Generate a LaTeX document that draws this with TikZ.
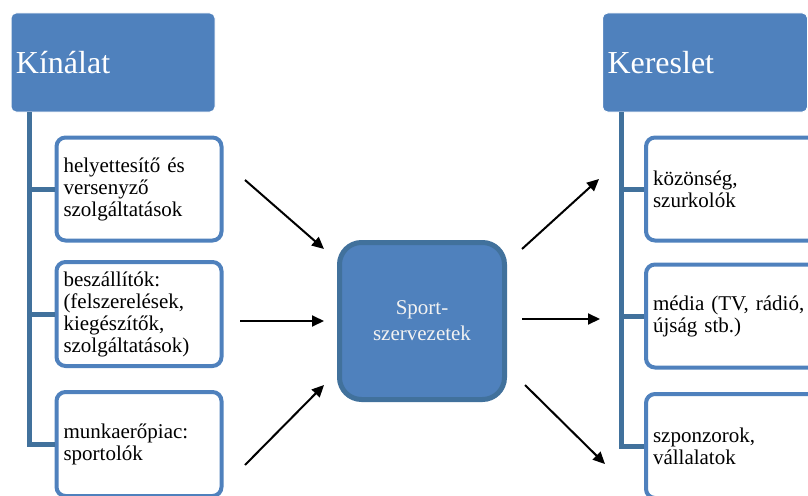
\documentclass[tikz,border=0pt]{standalone}
\usepackage{fontspec}
\setmainfont{Liberation Serif}
\usetikzlibrary{arrows.meta}
\definecolor{kek}{HTML}{4F81BD}
\definecolor{sotetkek}{HTML}{41719C}
\begin{document}
\begin{tikzpicture}[x=1pt,y=-1pt,
    fej/.style={fill=kek,draw=white,line width=1pt,rounded corners=5pt,
      minimum width=204pt,minimum height=99pt,text width=194pt,
      align=left,inner xsep=5pt,text=white,font=\fontsize{32}{36}\selectfont},
    elem/.style={fill=white,draw=kek,line width=4pt,rounded corners=9pt,
      minimum width=165pt,minimum height=103pt,text width=151pt,
      align=left,inner xsep=7pt,font=\fontsize{21}{22}\selectfont},
    jelem/.style={elem,minimum width=184pt,text width=170pt},
    kozep/.style={fill=kek,draw=sotetkek,line width=5pt,rounded corners=22pt,
      minimum width=165pt,minimum height=157pt,align=center,
      text=white!95!black,font=\fontsize{21}{26}\selectfont},
    ag/.style={draw=sotetkek,line width=5pt},
    nyil/.style={-{Triangle[length=12pt,width=11pt]},line width=2pt}]
  \useasboundingbox (0,0) rectangle (808,495);
  \node[fej] (kinalat) at (113,62.5) {Kínálat};
  \node[fej,minimum width=205pt,text width=195pt] (kereslet) at (705,62.5) {Kereslet};
  \node[elem] (helyettesito) at (139,189) {helyettesítő és\\versenyző\\szolgáltatások};
  \node[elem,minimum height=104pt] (beszallitok) at (139,314) {beszállítók:\\(felszerelések,\\kiegészítők,\\szolgáltatások)};
  \node[elem,minimum height=104pt] (munkaero) at (139,444) {munkaerőpiac:\\sportolók};
  \node[jelem] (kozonseg) at (738,189) {közönség,\\szurkolók};
  \node[jelem] (media) at (738,316) {média (TV, rádió,\\újság stb.)};
  \node[jelem,minimum height=104pt] (szponzor) at (738,446) {szponzorok,\\vállalatok};
  \node[kozep] (sport) at (422,321) {Sport-\\szervezetek};
  \coordinate (baltorzs) at (29,112);
  \coordinate (jobbtorzs) at (621,112);
  \begin{scope}[ag]
    \draw (baltorzs) |- (munkaero.west);
    \draw (baltorzs |- helyettesito.west) -- (helyettesito.west);
    \draw (baltorzs |- beszallitok.west) -- (beszallitok.west);
    \draw (jobbtorzs) |- (szponzor.west);
    \draw (jobbtorzs |- kozonseg.west) -- (kozonseg.west);
    \draw (jobbtorzs |- media.west) -- (media.west);
  \end{scope}
  \coordinate (be1) at (245,180);
  \coordinate (be2) at (240,321);
  \coordinate (be3) at (245,465);
  \coordinate (ki1) at (599,179);
  \coordinate (ki2) at (600,319);
  \coordinate (ki3) at (605,464);
  \begin{scope}[nyil]
    \draw (be1) -- ([shift={(-13,-72)}]sport.west);
    \draw (be2) -- ([shift={(-13,0)}]sport.west);
    \draw (be3) -- ([shift={(-13,64)}]sport.west);
    \draw ([shift={(15,-72)}]sport.east) -- (ki1);
    \draw ([shift={(15,-2)}]sport.east) -- (ki2);
    \draw ([shift={(18,64)}]sport.east) -- (ki3);
  \end{scope}
\end{tikzpicture}
\end{document}
